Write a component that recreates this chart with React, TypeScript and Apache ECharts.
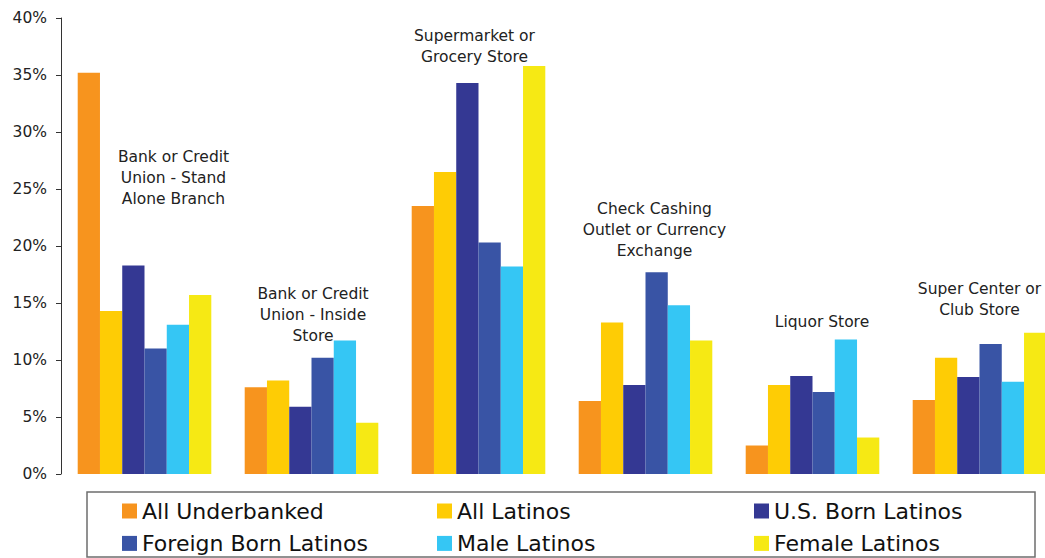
import React, { useEffect, useRef } from "react";
import * as echarts from "echarts";

const categories = [
  "Bank or Credit\nUnion - Stand\nAlone Branch",
  "Bank or Credit\nUnion - Inside\nStore",
  "Supermarket or\nGrocery Store",
  "Check Cashing\nOutlet or Currency\nExchange",
  "Liquor Store",
  "Super Center or\nClub Store",
];

const seriesNames = [
  "All Underbanked",
  "All Latinos",
  "U.S. Born Latinos",
  "Foreign Born Latinos",
  "Male Latinos",
  "Female Latinos",
];

const allUnderbanked = [35.2, 7.6, 23.5, 6.4, 2.5, 6.5];
const allLatinos = [14.3, 8.2, 26.5, 13.3, 7.8, 10.2];
const usBornLatinos = [18.3, 5.9, 34.3, 7.8, 8.6, 8.5];
const foreignBornLatinos = [11.0, 10.2, 20.3, 17.7, 7.2, 11.4];
const maleLatinos = [13.1, 11.7, 18.2, 14.8, 11.8, 8.1];
const femaleLatinos = [15.7, 4.5, 35.8, 11.7, 3.2, 12.4];

const yTicks = [0, 5, 10, 15, 20, 25, 30, 35, 40];

// layout: where each category caption sits (bottom of text, in axis units) and its horizontal shift in px
const captionBottom = [23.2, 11.2, 35.7, 18.6, 12.4, 13.5];
const captionShift = [29, 1.5, -4, 9, 9.5, 0];

const colors = ["#F7941E", "#FECC05", "#343893", "#3954A5", "#35C6F4", "#F6E914"];

const FONT = "'DejaVu Sans', Verdana, sans-serif";

export default function App() {
  const ref = useRef<HTMLDivElement>(null);

  useEffect(() => {
    document.body.style.margin = "0";
    document.body.style.overflow = "hidden";
    if (!ref.current) return;
    const chart = echarts.init(ref.current, null, { renderer: "svg" });
    const values = [allUnderbanked, allLatinos, usBornLatinos, foreignBornLatinos, maleLatinos, femaleLatinos];

    const barSeries = seriesNames.map((name, i) => ({
      name,
      type: "bar",
      data: values[i],
      barGap: "0%",
      barCategoryGap: "20%",
      itemStyle: { color: colors[i] },
      silent: true,
    }));

    const legendCommon = {
      orient: "vertical",
      top: 500,
      itemWidth: 15,
      itemHeight: 15,
      itemGap: 10.4,
      padding: 0,
      icon: "rect",
      selectedMode: false,
      textStyle: { fontSize: 22, lineHeight: 22, fontFamily: FONT, color: "#111" },
    };

    chart.setOption({
      animation: false,
      grid: { left: 61, right: 0, top: 18, bottom: 84, containLabel: false },
      xAxis: {
        type: "category",
        data: categories,
        axisLine: { show: false },
        axisTick: { show: false },
        axisLabel: { show: false },
        splitLine: { show: false },
      },
      yAxis: {
        type: "value",
        min: yTicks[0],
        max: yTicks[yTicks.length - 1],
        interval: 5,
        axisLine: { show: true, lineStyle: { color: "#333", width: 1 } },
        axisTick: { show: true, inside: false, length: 5, lineStyle: { color: "#333" } },
        splitLine: { show: false },
        axisLabel: {
          formatter: "{value}%",
          margin: 14,
          fontSize: 15.5,
          fontFamily: FONT,
          color: "#222",
        },
      },
      legend: [
        { ...legendCommon, left: 122, data: [seriesNames[0], seriesNames[3]] },
        { ...legendCommon, left: 437, data: [seriesNames[1], seriesNames[4]] },
        { ...legendCommon, left: 754, data: [seriesNames[2], seriesNames[5]] },
      ],
      graphic: [
        {
          type: "rect",
          shape: { x: 87, y: 492, width: 948, height: 65 },
          style: { fill: "none", stroke: "#6E6E6E", lineWidth: 1.5 },
          silent: true,
        },
      ],
      series: [
        ...barSeries,
        {
          type: "custom",
          name: "captions",
          silent: true,
          z: 10,
          data: categories.map((_, i) => [i, captionBottom[i]]),
          renderItem: (params: any, api: any) => {
            const i = api.value(0);
            const p = api.coord([i, api.value(1)]);
            return {
              type: "text",
              x: p[0] + captionShift[i],
              y: p[1],
              style: {
                text: categories[i],
                align: "center",
                verticalAlign: "bottom",
                fontSize: 15.5,
                lineHeight: 21,
                fontFamily: FONT,
                fill: "#222",
              },
            };
          },
        },
      ],
    } as any);

    return () => chart.dispose();
  }, []);

  return <div ref={ref} style={{ width: 1063, height: 558 }} />;
}
